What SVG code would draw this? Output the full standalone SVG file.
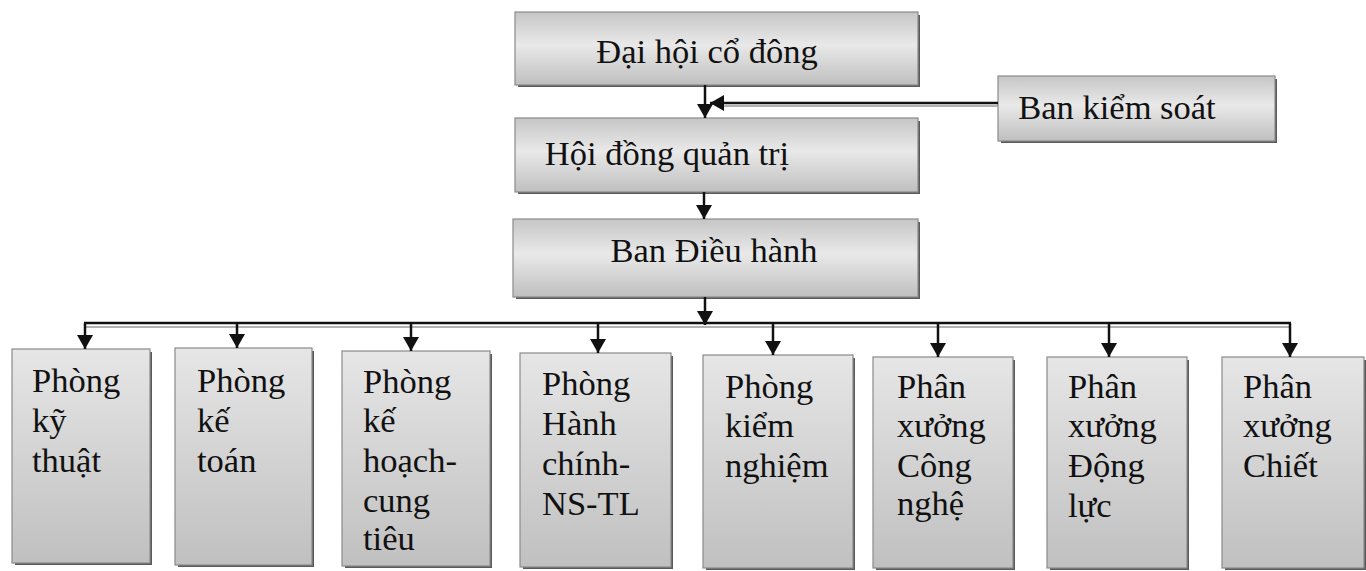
<svg xmlns="http://www.w3.org/2000/svg" width="1366" height="571" viewBox="0 0 1366 571">
<style>
.t{font-family:"Liberation Serif","Times New Roman",serif;font-size:34.5px;fill:#111}
.bx{stroke:#8a8a8a;stroke-width:1.2}
.sh{fill:#5a5a5a}
.ln{stroke:#111;stroke-width:2.5;fill:none}
.ln2{stroke:#999;stroke-width:1.5;fill:none}
</style>
<defs>
<linearGradient id="gh" x1="0" y1="0" x2="0" y2="1">
<stop offset="0" stop-color="#c6c6c6"/>
<stop offset="0.45" stop-color="#e9e9e9"/>
<stop offset="1" stop-color="#bfbfbf"/>
</linearGradient>
<linearGradient id="gv" x1="0" y1="0" x2="0" y2="1">
<stop offset="0" stop-color="#e6e6e6"/>
<stop offset="1" stop-color="#c0c0c0"/>
</linearGradient>
<marker id="ah" viewBox="0 0 14 16" refX="14" refY="8" markerWidth="14" markerHeight="16" markerUnits="userSpaceOnUse" orient="auto">
<path d="M0,0 L14,8 L0,16 Z" fill="#111"/>
</marker>
</defs>

<g id="n-daihoi">
<rect class="sh" x="518" y="15" width="402" height="72"/>
<rect class="bx" x="515" y="12" width="403" height="73" fill="url(#gh)"/>
<text class="t" x="707" y="63" text-anchor="middle">Đại hội cổ đông</text>
</g>
<g id="n-hoidong">
<rect class="sh" x="518" y="121" width="402" height="73"/>
<rect class="bx" x="515" y="118" width="403" height="74" fill="url(#gh)"/>
<text class="t" x="667" y="165" text-anchor="middle">Hội đồng quản trị</text>
</g>
<g id="n-bankiemsoat">
<rect class="sh" x="1001" y="79" width="276" height="64"/>
<rect class="bx" x="998" y="76" width="277" height="65" fill="url(#gh)"/>
<text class="t" x="1117" y="119" text-anchor="middle">Ban kiểm soát</text>
</g>
<g id="n-bandieuhanh">
<rect class="sh" x="516" y="222" width="404" height="77"/>
<rect class="bx" x="513" y="219" width="405" height="78" fill="url(#gh)"/>
<text class="t" x="714" y="262" text-anchor="middle">Ban Điều hành</text>
</g>

<g id="n-kythuat">
<rect class="sh" x="15" y="352" width="137" height="213"/>
<rect class="bx" x="12" y="349" width="138" height="214" fill="url(#gv)"/>
<text class="t" x="32" y="392">Phòng</text>
<text class="t" x="32" y="432">kỹ</text>
<text class="t" x="32" y="472">thuật</text>
</g>
<g id="n-ketoan">
<rect class="sh" x="178" y="351" width="136" height="216"/>
<rect class="bx" x="175" y="348" width="137" height="217" fill="url(#gv)"/>
<text class="t" x="197" y="392">Phòng</text>
<text class="t" x="197" y="432">kế</text>
<text class="t" x="197" y="472">toán</text>
</g>
<g id="n-kehoach">
<rect class="sh" x="345" y="354" width="147" height="214"/>
<rect class="bx" x="342" y="351" width="148" height="215" fill="url(#gv)"/>
<text class="t" x="363" y="393">Phòng</text>
<text class="t" x="363" y="432">kế</text>
<text class="t" x="363" y="472">hoạch-</text>
<text class="t" x="363" y="512">cung</text>
<text class="t" x="363" y="550">tiêu</text>
</g>
<g id="n-hanhchinh">
<rect class="sh" x="523" y="356" width="150" height="213"/>
<rect class="bx" x="520" y="353" width="151" height="214" fill="url(#gv)"/>
<text class="t" x="542" y="395">Phòng</text>
<text class="t" x="542" y="435">Hành</text>
<text class="t" x="542" y="475">chính-</text>
<text class="t" x="542" y="515">NS-TL</text>
</g>
<g id="n-kiemnghiem">
<rect class="sh" x="706" y="358" width="149" height="212"/>
<rect class="bx" x="703" y="355" width="150" height="213" fill="url(#gv)"/>
<text class="t" x="725" y="398">Phòng</text>
<text class="t" x="725" y="437">kiểm</text>
<text class="t" x="725" y="477">nghiệm</text>
</g>
<g id="n-congnghe">
<rect class="sh" x="876" y="360" width="139" height="210"/>
<rect class="bx" x="873" y="357" width="140" height="211" fill="url(#gv)"/>
<text class="t" x="897" y="398">Phân</text>
<text class="t" x="897" y="437">xưởng</text>
<text class="t" x="897" y="477">Công</text>
<text class="t" x="897" y="515">nghệ</text>
</g>
<g id="n-dongluc">
<rect class="sh" x="1050" y="360" width="139" height="210"/>
<rect class="bx" x="1047" y="357" width="140" height="211" fill="url(#gv)"/>
<text class="t" x="1068" y="398">Phân</text>
<text class="t" x="1068" y="437">xưởng</text>
<text class="t" x="1068" y="477">Động</text>
<text class="t" x="1068" y="517">lực</text>
</g>
<g id="n-chiet">
<rect class="sh" x="1225" y="360" width="141" height="210"/>
<rect class="bx" x="1222" y="357" width="142" height="211" fill="url(#gv)"/>
<text class="t" x="1243" y="398">Phân</text>
<text class="t" x="1243" y="437">xưởng</text>
<text class="t" x="1243" y="477">Chiết</text>
</g>

<g id="connectors">
<line class="ln2" x1="998" y1="106" x2="722" y2="106"/>
<line class="ln" x1="998" y1="103" x2="710" y2="103" marker-end="url(#ah)"/>
<line class="ln" x1="705" y1="85" x2="705" y2="118" marker-end="url(#ah)"/>
<line class="ln" x1="704" y1="192" x2="704" y2="219" marker-end="url(#ah)"/>
<line class="ln" x1="705" y1="297" x2="705" y2="325" marker-end="url(#ah)"/>
<line class="ln2" x1="85" y1="327" x2="1290" y2="327"/>
<line class="ln" x1="84" y1="323" x2="1291" y2="323"/>
<line class="ln" x1="85" y1="323" x2="85" y2="349" marker-end="url(#ah)"/>
<line class="ln" x1="237" y1="323" x2="237" y2="348" marker-end="url(#ah)"/>
<line class="ln" x1="411" y1="323" x2="411" y2="351" marker-end="url(#ah)"/>
<line class="ln" x1="598" y1="323" x2="598" y2="353" marker-end="url(#ah)"/>
<line class="ln" x1="773" y1="323" x2="773" y2="355" marker-end="url(#ah)"/>
<line class="ln" x1="938" y1="323" x2="938" y2="357" marker-end="url(#ah)"/>
<line class="ln" x1="1109" y1="323" x2="1109" y2="357" marker-end="url(#ah)"/>
<line class="ln" x1="1290" y1="323" x2="1290" y2="357" marker-end="url(#ah)"/>
</g>
</svg>
